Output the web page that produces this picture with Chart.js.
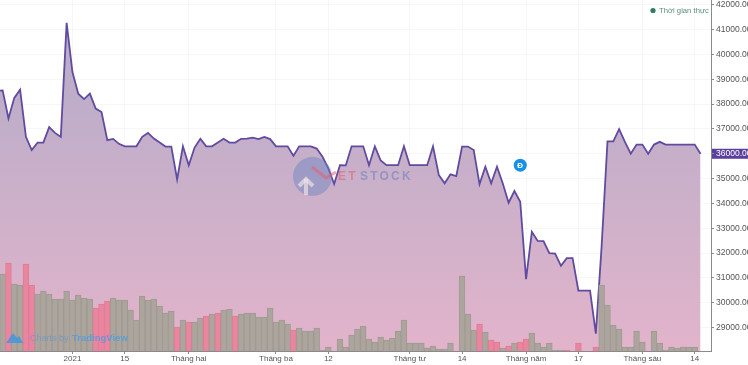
<!DOCTYPE html>
<html>
<head>
<meta charset="utf-8">
<style>html,body{margin:0;padding:0;background:#fff;overflow:hidden}canvas{display:block}</style>
<script src="https://cdn.jsdelivr.net/npm/chart.js@4"></script>
</head>
<body>
<canvas id="c" width="748" height="365"></canvas>
<script>
const tickIndex = [12, 21, 32, 47, 56, 70, 79, 90, 99, 110, 119];
const tickLabels = ['2021', '15', 'Tháng hai', 'Tháng ba', '12', 'Tháng tư', '14', 'Tháng năm', '17', 'Tháng sáu', '14'];
const priceTicks = [29000, 30000, 31000, 32000, 33000, 34000, 35000, 36000, 37000, 38000, 39000, 40000, 41000, 42000];
const priorClose = 38530;
const closeValues = [
  38550, 37420, 38250, 38580, 36680, 36150, 36450, 36450, 37070, 36840,
  36680, 41270, 39290, 38420, 38200, 38420, 37820, 37680, 36550, 36600,
  36400, 36300, 36300, 36300, 36680, 36840, 36610, 36450, 36290, 36290,
  34970, 36300, 35540, 36250, 36600, 36300, 36300, 36450, 36600, 36450,
  36450, 36600, 36610, 36650, 36590, 36680, 36590, 36300, 36300, 36300,
  35920, 36300, 36300, 36300, 36210, 35880, 35410, 34780, 35540, 35530,
  36300, 36300, 36300, 35540, 36300, 35730, 35540, 35540, 35540, 36300,
  35540, 35540, 35540, 35540, 36300, 35140, 34810, 35170, 35100, 36290,
  36290, 36150, 34780, 35480, 34810, 35480, 34800, 34030, 34500, 34070,
  30950, 32860, 32490, 32480, 32000, 31980, 31490, 31800, 31800, 30490,
  30490, 30490, 28755, 32300, 36500, 36500, 36990, 36480, 36000, 36370,
  36370, 36000, 36370, 36480, 36370, 36370, 36370, 36370, 36370, 36370,
  36000
];
const volumeValues = [
  77, 88, 67, 66, 87, 66, 57, 60, 57, 52,
  52, 60, 51, 56, 53, 52, 43, 47, 50, 53,
  51, 51, 41, 31, 55, 51, 52, 45, 38, 40,
  24, 31, 29, 29, 33, 35, 37, 38, 41, 42,
  35, 37, 38, 38, 34, 34, 43, 29, 31, 27,
  21, 23, 20, 20, 23, 1, 4, 0, 12, 4,
  16, 22, 25, 12, 9, 14, 11, 13, 20, 31,
  8, 8, 8, 3, 5, 2, 2, 8, 0, 75,
  37, 21, 27, 19, 11, 9, 3, 5, 8, 9,
  12, 18, 8, 4, 8, 1, 1, 1, 0, 8,
  0, 0, 4, 66, 46, 26, 22, 4, 4, 20,
  9, 0, 20, 8, 1, 4, 3, 4, 4, 4,
  0
];
const downDays = [1, 4, 5, 16, 17, 18, 30, 32, 35, 37, 40, 50, 82, 84, 85, 87, 89, 90, 97, 99, 102];
const markerIndex = [89];
const markerPrice = [35540];
const markerLabel = 'Đ';
const lastPrice = 36000;
const statusLabel = 'Thời gian thực';
const FONT = '"Liberation Sans", Arial, sans-serif';

const decor = {
  id: 'decor',
  beforeDraw(chart) {
    const c = chart.ctx, y = chart.scales.y, py = y.getPixelForValue(lastPrice);
    c.save();
    c.fillStyle = '#5a3f9f';
    c.fillRect(711, py - 5, 37, 10);
    c.restore();
  },
  afterDraw(chart) {
    const c = chart.ctx, m = chart.getDatasetMeta(2).data[0];
    c.save();
    // marker letter
    c.fillStyle = '#fff';
    c.font = 'bold 8px ' + FONT;
    c.textAlign = 'center';
    c.textBaseline = 'middle';
    c.fillText(markerLabel, m.x, m.y + 0.5);
    // status
    c.fillStyle = '#2f7d5c';
    c.beginPath(); c.arc(653, 10.5, 2.6, 0, Math.PI * 2); c.fill();
    c.fillStyle = '#5b8f78';
    c.font = '7.7px ' + FONT;
    c.textAlign = 'left';
    c.fillText(statusLabel, 659, 10.5);
    // watermark logo
    c.fillStyle = 'rgba(105,130,190,0.45)';
    c.beginPath(); c.arc(312.5, 176.5, 19.5, 0, Math.PI * 2); c.fill();
    c.strokeStyle = 'rgba(240,225,230,0.7)';
    c.lineWidth = 4;
    c.beginPath(); c.moveTo(299, 186); c.lineTo(306, 179); c.lineTo(313, 186); c.stroke();
    c.beginPath(); c.moveTo(306, 179); c.lineTo(306, 195); c.stroke();
    c.strokeStyle = 'rgba(232,92,110,0.55)';
    c.lineWidth = 3;
    c.beginPath(); c.moveTo(312, 167); c.lineTo(326, 178); c.lineTo(336, 172); c.stroke();
    c.font = 'bold 12px ' + FONT;
    c.textBaseline = 'middle';
    if ('letterSpacing' in c) c.letterSpacing = '2.2px';
    c.fillStyle = 'rgba(232,90,105,0.55)';
    c.fillText('ET', 338, 176.5);
    c.fillStyle = 'rgba(105,125,185,0.55)';
    c.fillText('STOCK', 360, 176.5);
    if ('letterSpacing' in c) c.letterSpacing = '0px';
    // TradingView attribution
    c.fillStyle = 'rgba(60,150,225,0.8)';
    c.beginPath();
    c.moveTo(6, 343); c.lineTo(13, 333); c.lineTo(17, 338); c.lineTo(19, 336); c.lineTo(23, 343);
    c.closePath(); c.fill();
    c.fillStyle = 'rgba(70,150,225,0.5)';
    c.font = '9px ' + FONT;
    c.fillText('Charts by', 30, 338.5);
    c.fillStyle = 'rgba(70,155,230,0.75)';
    c.font = 'bold 9.5px ' + FONT;
    c.fillText('TradingView', 72, 338.5);
    c.restore();
  }
};

new Chart(document.getElementById('c'), {
  data: {
    datasets: [
      {
        type: 'line',
        order: 3,
        yAxisID: 'y',
        data: [{ x: -1, y: priorClose }].concat(closeValues.map((v, i) => ({ x: i, y: v }))),
        borderColor: '#5f4ba0',
        borderWidth: 1.8,
        pointRadius: 0,
        tension: 0,
        fill: 'start',
        backgroundColor(ctx) {
          const a = ctx.chart.chartArea;
          if (!a) return '#c9b2ca';
          const g = ctx.chart.ctx.createLinearGradient(0, 90, 0, a.bottom);
          g.addColorStop(0, '#bdadc9');
          g.addColorStop(1, '#e2b4cb');
          return g;
        }
      },
      {
        type: 'bar',
        order: 2,
        yAxisID: 'v',
        data: volumeValues.map((v, i) => ({ x: i, y: v })),
        barPercentage: 1,
        categoryPercentage: 1,
        borderWidth: 1,
        backgroundColor: volumeValues.map((v, i) => downDays.includes(i) ? '#e9859f' : '#aba59e'),
        borderColor: volumeValues.map((v, i) => downDays.includes(i) ? '#e27b96' : '#a09a91')
      },
      {
        type: 'scatter',
        order: 1,
        yAxisID: 'y',
        data: markerIndex.map((x, i) => ({ x, y: markerPrice[i] })),
        pointRadius: 6.5,
        pointHoverRadius: 6.5,
        pointBackgroundColor: '#1592e6',
        pointBorderWidth: 0
      }
    ]
  },
  options: {
    responsive: false,
    animation: false,
    events: [],
    layout: { padding: 0, autoPadding: false },
    plugins: { legend: { display: false }, tooltip: { enabled: false }, title: { display: false } },
    scales: {
      x: {
        type: 'linear',
        min: -0.456,
        max: 121.8,
        offset: false,
        afterFit(s) { s.height = 14; s.paddingLeft = 0; s.paddingRight = 0; },
        afterBuildTicks(s) { s.ticks = tickIndex.map(v => ({ value: v })); },
        grid: { offset: false, color: 'rgba(90,90,90,0.05)', tickColor: '#8a8a8a', tickLength: 3, drawTicks: true },
        border: { color: '#8a8a8a', width: 1 },
        ticks: {
          autoSkip: false, maxRotation: 0, minRotation: 0, padding: 0,
          color: '#555',
          font: { family: FONT, size: 8 },
          callback(v) { const i = tickIndex.indexOf(v); return i < 0 ? '' : tickLabels[i]; }
        }
      },
      y: {
        position: 'right',
        min: 28060,
        max: 42190,
        afterFit(s) { s.width = 37; s.paddingTop = 0; s.paddingBottom = 0; },
        afterBuildTicks(s) { s.ticks = priceTicks.map(v => ({ value: v })); },
        grid: { color: 'rgba(90,90,90,0.05)', tickColor: '#8a8a8a', tickLength: 3 },
        border: { color: '#8a8a8a', width: 1 },
        ticks: {
          padding: 2, align: 'center', crossAlign: 'near',
          font: { family: FONT, size: 8.5 },
          color(ctx) { return ctx.tick.value === lastPrice ? '#fff' : '#555'; },
          callback(v) { return v.toFixed(2); }
        }
      },
      v: {
        display: false,
        position: 'left',
        min: 0,
        max: 351
      }
    }
  },
  plugins: [decor]
});
</script>
</body>
</html>
